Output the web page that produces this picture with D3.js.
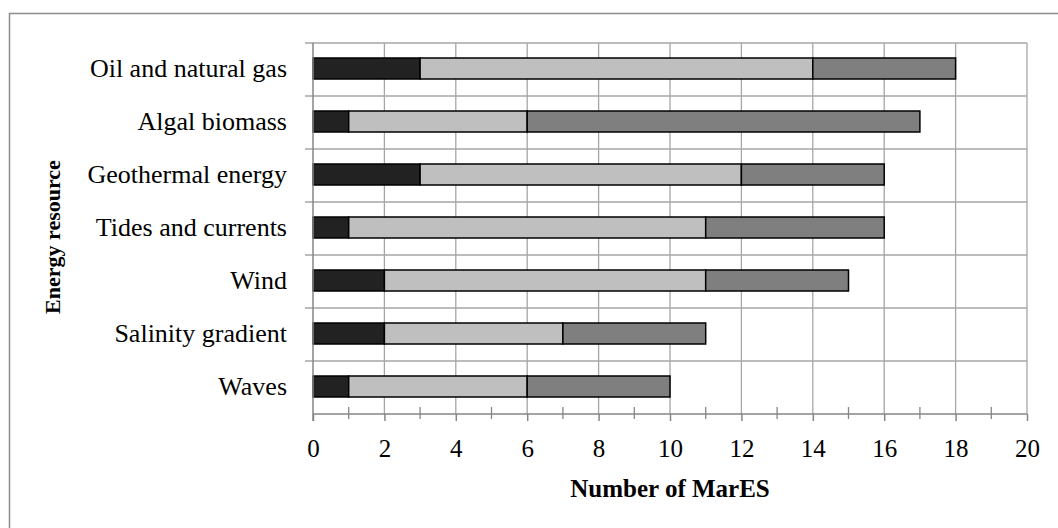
<!DOCTYPE html>
<html>
<head>
<meta charset="utf-8">
<script src="https://cdn.jsdelivr.net/npm/d3@7"></script>
<style>
  body { margin: 0; background: #fff; }
  text { font-family: "Liberation Serif", "DejaVu Serif", serif; fill: #000; }
</style>
</head>
<body>
<div id="chart"></div>
<script>
var width = 1058;
var height = 528;

// data (bottom segment first)
var categories = ["Oil and natural gas", "Algal biomass", "Geothermal energy",
  "Tides and currents", "Wind", "Salinity gradient", "Waves"];
var series1 = [3, 1, 3, 1, 2, 2, 1];
var series2 = [11, 5, 9, 10, 9, 5, 5];
var series3 = [4, 11, 4, 5, 4, 4, 4];
var seriesColours = ["#222222", "#bfbfbf", "#7f7f7f"];
var xTicks = [0, 2, 4, 6, 8, 10, 12, 14, 16, 18, 20];

var margin = {left: 313, right: 31, top: 43, bottom: 114};
var plotW = width - margin.left - margin.right;
var plotH = height - margin.top - margin.bottom;
var fontSize = "25px";

var svg = d3.select("#chart")
  .append("svg")
  .attr("width", width)
  .attr("height", height);

// outer frame (only top & left visible in the original)
svg.append("rect")
  .attr("x", 9.5).attr("y", 13.5)
  .attr("width", width + 20).attr("height", height + 20)
  .style("fill", "none")
  .style("stroke", "#8c8c8c")
  .style("stroke-width", 1.5);

var g = svg.append("g")
  .attr("transform", "translate(" + margin.left + "," + margin.top + ")");

var xScale = d3.scaleLinear().domain([0, 20]).range([0, plotW]);
var yScale = d3.scaleBand().domain(categories).range([0, plotH]).paddingInner(0).paddingOuter(0);

// vertical gridlines
g.selectAll(".vgrid")
  .data(xTicks.slice(1))
  .enter().append("line")
  .attr("x1", function(d) { return xScale(d); })
  .attr("x2", function(d) { return xScale(d); })
  .attr("y1", 0).attr("y2", plotH)
  .style("stroke", "#a6a6a6").style("stroke-width", 1.3);

// horizontal gridlines at category boundaries
var bounds = d3.range(categories.length).map(function(i) { return yScale(categories[i]); });
g.selectAll(".hgrid")
  .data(bounds)
  .enter().append("line")
  .attr("x1", -8).attr("x2", plotW)
  .attr("y1", function(d) { return d; })
  .attr("y2", function(d) { return d; })
  .style("stroke", "#a6a6a6").style("stroke-width", 1.3);

// stacked bars
var rows = categories.map(function(c, i) {
  return {cat: c, s0: series1[i], s1: series2[i], s2: series3[i]};
});
var stack = d3.stack().keys(["s0", "s1", "s2"]);
var layers = stack(rows);
var barH = 21;

g.selectAll(".layer")
  .data(layers)
  .enter().append("g")
  .style("fill", function(d, i) { return seriesColours[i]; })
  .selectAll("rect")
  .data(function(d) { return d; })
  .enter().append("rect")
  .attr("x", function(d) { return xScale(d[0]); })
  .attr("width", function(d) { return xScale(d[1]) - xScale(d[0]); })
  .attr("y", function(d) { return yScale(d.data.cat) + yScale.bandwidth() / 2 - barH / 2 - 1; })
  .attr("height", barH)
  .style("stroke", "#000")
  .style("stroke-width", 1.5);

// y axis line
g.append("line")
  .attr("x1", 0).attr("x2", 0).attr("y1", 0).attr("y2", plotH + 7)
  .style("stroke", "#868686").style("stroke-width", 1.5);

// x axis
var xAxis = d3.axisBottom(xScale)
  .tickValues(xTicks)
  .tickSize(7)
  .tickPadding(18)
  .tickFormat(d3.format("d"));

var xg = g.append("g")
  .attr("transform", "translate(0," + plotH + ")")
  .call(xAxis);
xg.select(".domain").remove();
xg.selectAll(".tick line").style("stroke", "#868686").style("stroke-width", 1.5);
xg.selectAll(".tick text").style("font-size", fontSize).style("font-family", "Liberation Serif");

g.append("line")
  .attr("x1", 0).attr("x2", plotW).attr("y1", plotH).attr("y2", plotH)
  .style("stroke", "#868686").style("stroke-width", 1.5);

// minor ticks at odd values
g.selectAll(".minor")
  .data(d3.range(1, 20, 2))
  .enter().append("line")
  .attr("x1", function(d) { return xScale(d); })
  .attr("x2", function(d) { return xScale(d); })
  .attr("y1", plotH - 7).attr("y2", plotH + 5)
  .style("stroke", "#868686").style("stroke-width", 1.3);

// category labels
g.selectAll(".catlabel")
  .data(categories)
  .enter().append("text")
  .attr("x", -26)
  .attr("y", function(d) { return yScale(d) + yScale.bandwidth() / 2; })
  .attr("dy", "0.3em")
  .attr("text-anchor", "end")
  .style("font-size", "26px")
  .text(function(d) { return d; });

// axis titles
svg.append("text")
  .attr("x", margin.left + plotW / 2)
  .attr("y", 497)
  .attr("text-anchor", "middle")
  .style("font-size", fontSize)
  .style("font-weight", "bold")
  .text("Number of MarES");

svg.append("text")
  .attr("transform", "translate(60,237) rotate(-90)")
  .attr("text-anchor", "middle")
  .style("font-size", "22px")
  .style("font-weight", "bold")
  .text("Energy resource");
</script>
</body>
</html>
